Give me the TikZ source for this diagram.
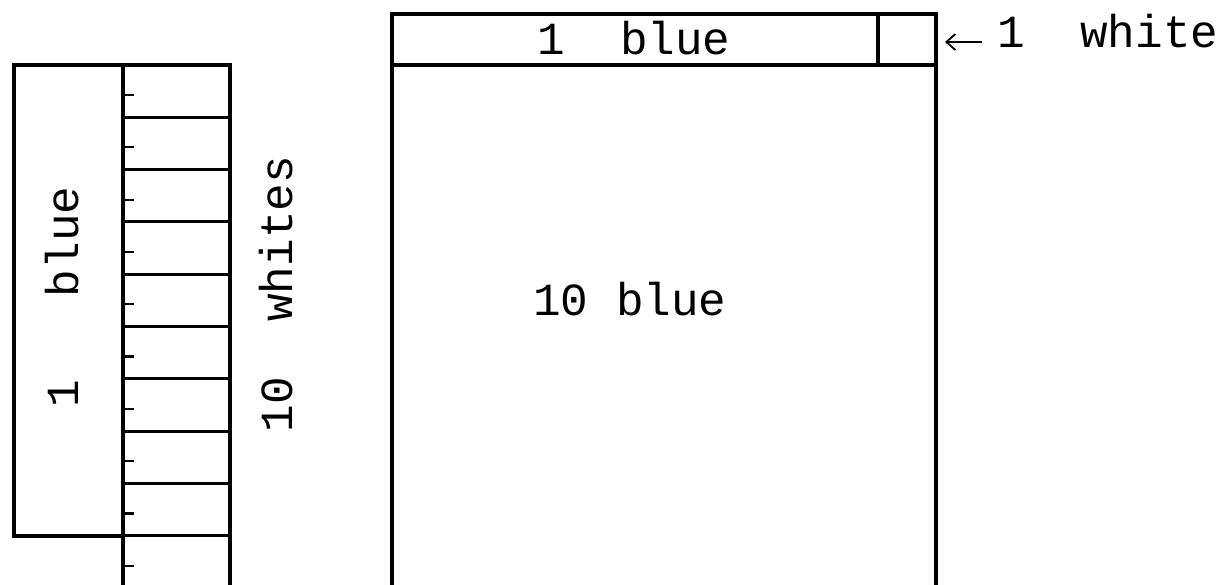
\documentclass[tikz,border=0pt]{standalone}
\usepackage{fontspec}
\setmainfont{Liberation Mono}
\usetikzlibrary{arrows.meta}
\tikzset{
  outer/.style={line width=2pt, line cap=rect, line join=miter},
  cell/.style={line width=1.5pt},
  tick/.style={line width=1.1pt},
  lbl/.style={inner sep=0pt, font=\fontsize{23pt}{23pt}\selectfont},
  arr/.style={line width=0.9pt, -{Straight Barb[length=4.5pt,width=8pt]}}
}
\begin{document}
\begin{tikzpicture}[x=0.5pt,y=-0.5pt]
\useasboundingbox (0,0) rectangle (1220,584);
% left: 1 blue column
\draw[outer] (123,65) -- (14,65) -- (14,536) -- (123,536);
% strip of 10 whites
\draw[outer] (123,65) -- (230,65);
\draw[outer] (123,65) -- (123,590);
\draw[outer] (230,65) -- (230,590);
\foreach \k in {1,...,9} {
  \draw[cell] (123,{65+52.3*\k}) -- (230,{65+52.3*\k});
}
\foreach \k in {0,...,9} {
  \draw[tick] (123,{95+52.3*\k}) -- (134,{95+52.3*\k});
}
\node[lbl, rotate=90, anchor=base] (lblue) at (78,297) {1\ \ \ blue};
\node[lbl, rotate=90, anchor=base] (lwhites) at (292,294) {10\ \ whites};
% right: big square
\draw[outer] (392,590) -- (392,14) -- (936,14) -- (936,590);
\draw[outer] (392,65) -- (936,65);
\draw[outer] (878,14) -- (878,65);
\node[lbl, anchor=base] (tblue) at (634,54) {1\ \ blue};
\node[lbl, anchor=base] (bigblue) at (630,315) {10 blue};
\coordinate (sqE) at (945,42);
\node[lbl, anchor=base west] (w1) at (997,47) {1\ \ white};
\draw[arr] ([xshift=-7.5pt,yshift=2.5pt]w1.base west) -- (sqE);
\end{tikzpicture}
\end{document}
